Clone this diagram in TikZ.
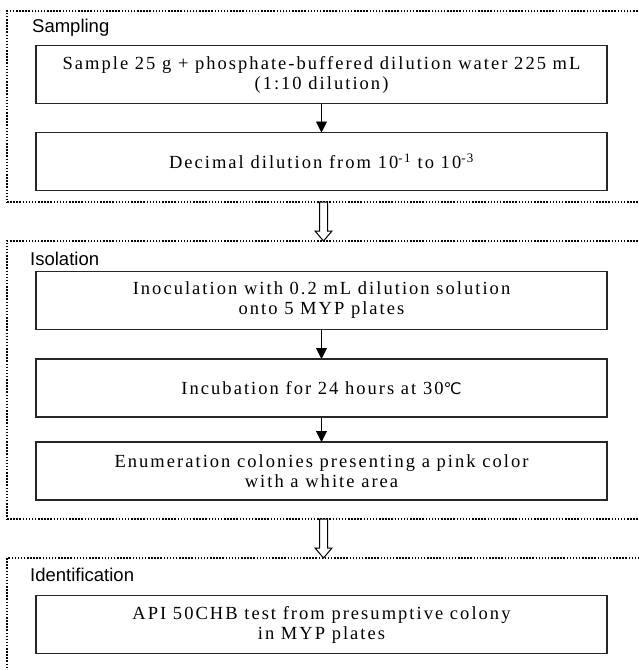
\documentclass[tikz,border=0pt]{standalone}
\usepackage{fontspec}
\setmainfont{Liberation Sans}
\newfontfamily\boxfont[LetterSpace=11]{Liberation Serif}
\newfontfamily\symfont{DejaVu Sans}
\usetikzlibrary{arrows.meta,calc}
\begin{document}
\begin{tikzpicture}[x=1pt,y=-1pt,
	frame/.style={draw=black, line width=1.5pt, dash pattern=on 1.5pt off 1.6pt,
		inner sep=0pt, outer sep=0pt, minimum width=660pt, anchor=north west},
	stepbox/.style={draw=black!85, line width=1.3pt, inner sep=0pt, outer sep=0pt,
		minimum width=571pt, minimum height=58pt, align=center,
		font={\boxfont\fontsize{18.5pt}{20pt}\selectfont}},
	title/.style={anchor=base west, inner sep=0pt, font=\fontsize{18.5pt}{20pt}\selectfont},
	link/.style={line width=0.9pt, -{Triangle[width=11pt,length=11pt]}},
	hollow/.style={draw=black, line width=1pt, fill=white, line join=miter}]
	\useasboundingbox (0,0) rectangle (639,670);
	% frames
	\node [frame, minimum height=191pt] (f1) at (7,11) {};
	\node [frame, minimum height=278pt] (f2) at (7,241) {};
	\node [frame, minimum height=140pt] (f3) at (7,558) {};
	\node [title] (s1) at (32,32) {Sampling};
	\node [title] (s2) at (30,265) {Isolation};
	\node [title] (s3) at (30,581) {Identification};
	% steps
	\node [stepbox] (b1) at (321.5,74.5) {Sample 25 g + phosphate-buffered dilution water 225 mL\\(1:10 dilution)};
	\node [stepbox] (b2) at (321.5,161.5) {Decimal dilution from 10\textsuperscript{-1} to 10\textsuperscript{-3}};
	\node [stepbox] (b3) at (321.5,300.5) {Inoculation with 0.2 mL dilution solution\\onto 5 MYP plates};
	\node [stepbox] (b4) at (321.5,388) {Incubation for 24 hours at 30{\symfont\fontsize{16pt}{20pt}\selectfont ℃}};
	\node [stepbox] (b5) at (321.5,471) {Enumeration colonies presenting a pink color\\with a white area};
	\node [stepbox] (b6) at (321.5,624.5) {API 50CHB test from presumptive colony\\in MYP plates};
	\draw [link] (b1) -- (b2);
	\draw [link] (b3) -- (b4);
	\draw [link] (b4) -- (b5);
	% block arrows between frames
	\coordinate (t1) at ($(b2.south |- f2.north)+(2,0)$);
	\coordinate (t2) at ($(b5.south |- f3.north)+(2,0)$);
	\foreach \t in {t1,t2}
		\draw [hollow] (\t) -- ++(-8.5,-10) -- ++(4.5,0) -- ++(0,-29) -- ++(8,0)
			-- ++(0,29) -- ++(4.5,0) -- cycle;
\end{tikzpicture}
\end{document}
